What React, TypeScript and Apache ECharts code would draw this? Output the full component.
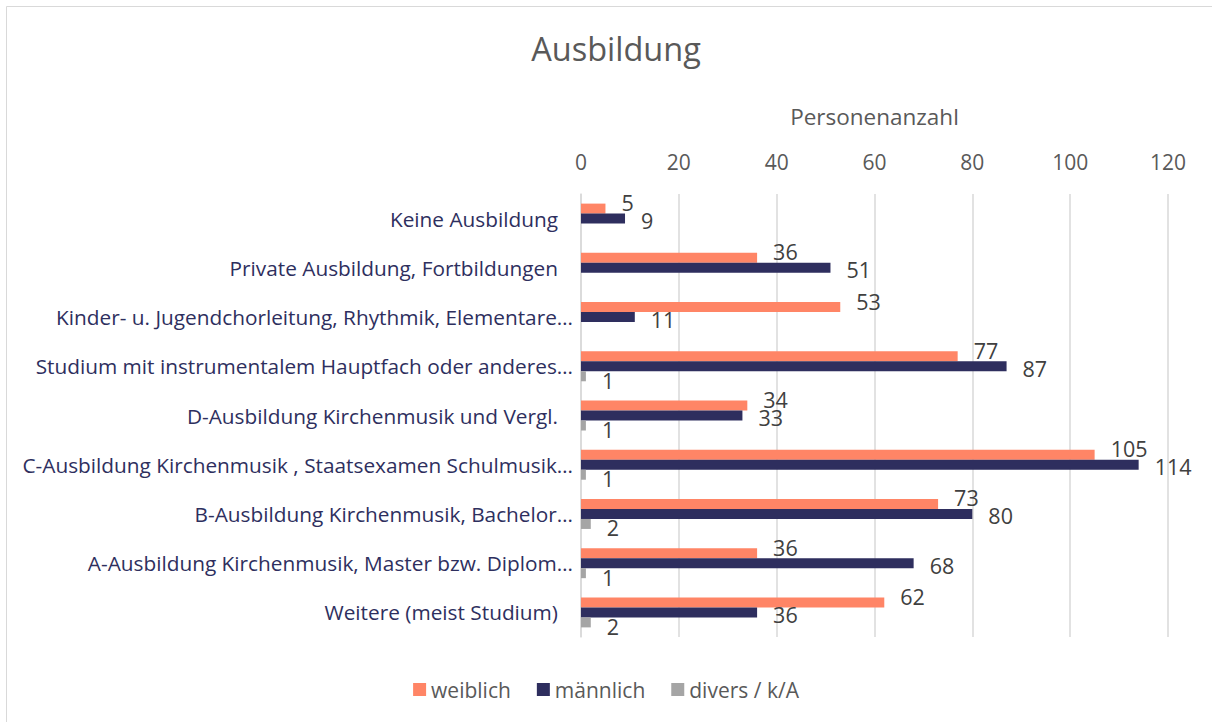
import React, { useEffect, useRef } from "react";
import * as echarts from "echarts";

const categories = [
  "Keine Ausbildung",
  "Private Ausbildung, Fortbildungen",
  "Kinder- u. Jugendchorleitung, Rhythmik, Elementare…",
  "Studium mit instrumentalem Hauptfach oder anderes…",
  "D-Ausbildung Kirchenmusik und Vergl.",
  "C-Ausbildung Kirchenmusik , Staatsexamen Schulmusik…",
  "B-Ausbildung Kirchenmusik, Bachelor…",
  "A-Ausbildung Kirchenmusik, Master bzw. Diplom…",
  "Weitere (meist Studium)",
];
const weiblich = [5, 36, 53, 77, 34, 105, 73, 36, 62];
const maennlich = [9, 51, 11, 87, 33, 114, 80, 68, 36];
const divers = [null, null, null, 1, 1, 1, 2, 1, 2];
const xTicks = [0, 120, 20];

const FONT = "Open Sans";

export default function App() {
  const ref = useRef<HTMLDivElement>(null);
  useEffect(() => {
    if (!ref.current) return;
    const chart = echarts.init(ref.current, null, { renderer: "svg" });
    const labelBase = {
      show: true,
      position: "right",
      distance: 16,
      color: "#404040",
      fontSize: 21.5,
      fontFamily: FONT,
    };
    const catText = { fontSize: 20.8, color: "#2e2f5e", fontFamily: FONT };
    chart.setOption({
      animation: false,
      backgroundColor: "#ffffff",
      textStyle: { fontFamily: FONT },
      title: {
        text: "Ausbildung",
        left: 611,
        top: 27,
        textAlign: "center",
        textStyle: { fontSize: 32.5, fontWeight: "normal", color: "#595959", fontFamily: FONT },
      },
      graphic: [
        {
          type: "rect",
          shape: { x: 6.5, y: 6.5, width: 1300, height: 800 },
          style: { fill: "none", stroke: "#d9d9d9", lineWidth: 1 },
          silent: true,
        },
      ],
      legend: {
        bottom: 17,
        left: "center",
        itemWidth: 13,
        itemHeight: 13,
        itemGap: 26,
        icon: "rect",
        textStyle: { fontSize: 21, color: "#595959", fontFamily: FONT },
        data: ["weiblich", "männlich", "divers / k/A"],
      },
      grid: { left: 581, right: 44, top: 194, bottom: 85, containLabel: false },
      xAxis: {
        type: "value",
        position: "top",
        min: xTicks[0],
        max: xTicks[1],
        interval: xTicks[2],
        name: "Personenanzahl",
        nameLocation: "middle",
        nameGap: 66,
        nameTextStyle: { fontSize: 22.5, color: "#595959", fontFamily: FONT },
        axisLine: { show: false },
        axisTick: { show: false },
        axisLabel: { fontSize: 21, color: "#595959", margin: 22, fontFamily: FONT },
        splitLine: { show: true, lineStyle: { color: "#d9d9d9", width: 1.5 } },
      },
      yAxis: {
        type: "category",
        inverse: true,
        data: categories,
        axisLine: { show: true, lineStyle: { color: "#d9d9d9", width: 1.5 } },
        axisTick: { show: false },
        axisLabel: {
          ...catText,
          margin: 8,
          formatter: (v: string) => (v.endsWith("…") ? `{t|${v}}` : `{p|${v}}`),
          rich: {
            t: { ...catText },
            p: { ...catText, padding: [0, 15, 0, 0] },
          },
        },
      },
      series: [
        {
          name: "weiblich",
          type: "bar",
          data: weiblich,
          barWidth: 10,
          barGap: "0%",
          itemStyle: { color: "#ff8566" },
          label: { ...labelBase, offset: [0, -6] },
        },
        {
          name: "männlich",
          type: "bar",
          data: maennlich,
          barWidth: 10,
          barGap: "0%",
          itemStyle: { color: "#2e2e5e" },
          label: { ...labelBase, offset: [0, 2] },
        },
        {
          name: "divers / k/A",
          type: "bar",
          data: divers,
          barWidth: 10,
          barGap: "0%",
          itemStyle: { color: "#a5a5a5" },
          label: { ...labelBase, offset: [0, 4] },
        },
      ],
    });
    return () => chart.dispose();
  }, []);
  return (
    <div
      ref={ref}
      style={{ position: "absolute", left: 0, top: 0, width: 1212, height: 722 }}
    />
  );
}
